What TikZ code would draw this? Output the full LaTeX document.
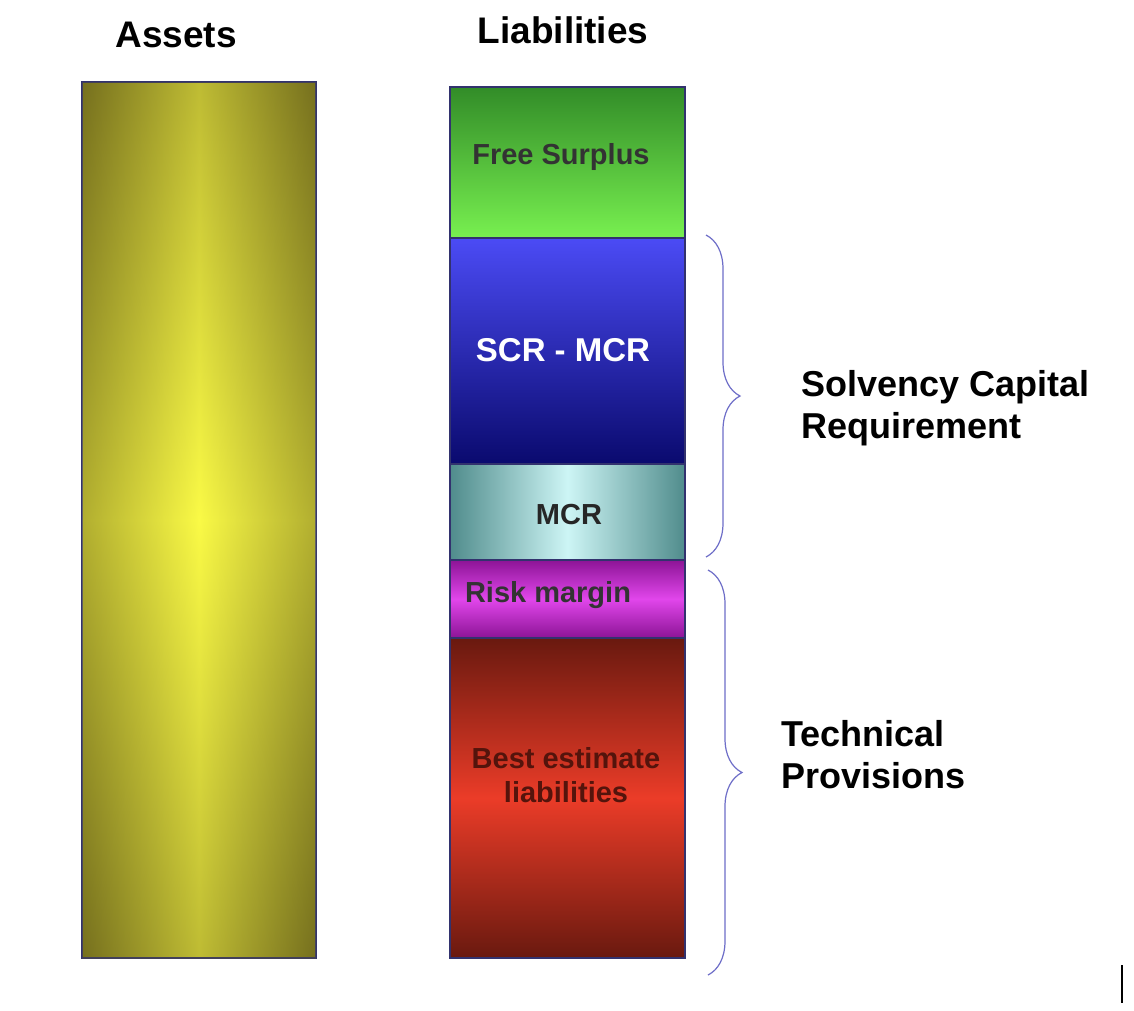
\documentclass[tikz,border=0pt]{standalone}
\usepackage{fontspec}
\setmainfont{Liberation Sans}
\usetikzlibrary{decorations.pathreplacing}
\definecolor{olive1}{RGB}{118,112,30}
\definecolor{yel1}{RGB}{250,250,70}
\definecolor{grn1}{RGB}{50,140,40}
\definecolor{grn2}{RGB}{120,240,80}
\definecolor{blu1}{RGB}{75,75,245}
\definecolor{blu2}{RGB}{10,10,110}
\definecolor{teal1}{RGB}{80,140,140}
\definecolor{teal2}{RGB}{205,245,245}
\definecolor{pur1}{RGB}{140,20,150}
\definecolor{pur2}{RGB}{225,70,235}
\definecolor{red1}{RGB}{105,25,15}
\definecolor{red2}{RGB}{235,60,40}
\definecolor{edge}{RGB}{50,50,110}
\definecolor{brc}{RGB}{110,110,200}
\tikzset{blk/.style={draw=edge,line width=1.2pt},
 ttl/.style={font=\bfseries\fontsize{37}{40}\selectfont},
 lbl/.style={font=\fontsize{36}{42}\selectfont\bfseries,align=left,anchor=west},
 inl/.style={font=\fontsize{29}{34}\selectfont\bfseries},
 brace/.style={draw=brc,line width=1.2pt,decorate,decoration={brace,amplitude=34pt}}}
\begin{document}
\begin{tikzpicture}[x=1pt,y=-1pt]
\useasboundingbox (0,0) rectangle (1134,1010);
\fill[white] (0,0) rectangle (1134,1010);
\node[ttl] (ta) at (176,35) {Assets};
\node[ttl] (tl) at (563,30) {Liabilities};
\path[blk,left color=olive1,right color=olive1,middle color=yel1] (82,82) rectangle (316,958);
\path[blk,top color=olive1,bottom color=olive1,middle color=yel1,opacity=0.45] (82,82) rectangle (316,958);
\path[blk,shading angle=135,top color=grn1,bottom color=grn2] (450,87) rectangle (685,238);
\node[inl,text=black!80] (fs) at (561,157) {Free Surplus};
\path[blk,shading angle=135,top color=blu1,bottom color=blu2] (450,238) rectangle (685,464);
\node[inl,text=white,font=\fontsize{33}{38}\selectfont\bfseries] (scr) at (563,350) {SCR - MCR};
\path[blk,left color=teal1,right color=teal1,middle color=teal2] (450,464) rectangle (685,560);
\node[inl,text=black!85] (mcr) at (569,515) {MCR};
\path[blk,top color=pur1,bottom color=pur1,middle color=pur2] (450,560) rectangle (685,638);
\node[inl,text=black!80] (rm) at (548,595) {Risk margin};
\path[blk,top color=red1,bottom color=red1,middle color=red2] (450,638) rectangle (685,958);
\node[inl,text=red1!80!black,align=center] (be) at (566,775) {Best estimate\\liabilities};
\coordinate (s1) at (706,235); \coordinate (s2) at (706,557);
\draw[brace] (s1) -- (s2);
\coordinate (t1) at (708,570); \coordinate (t2) at (708,975);
\draw[brace] (t1) -- (t2);
\node[lbl] (scrl) at (798,408) {Solvency Capital\\Requirement};
\node[lbl] (tpl) at (778,755) {Technical\\Provisions};
\coordinate (v1) at (1122,965); \coordinate (v2) at (1122,1003);
\draw[line width=1.2pt] (v1) -- (v2);
\end{tikzpicture}
\end{document}
